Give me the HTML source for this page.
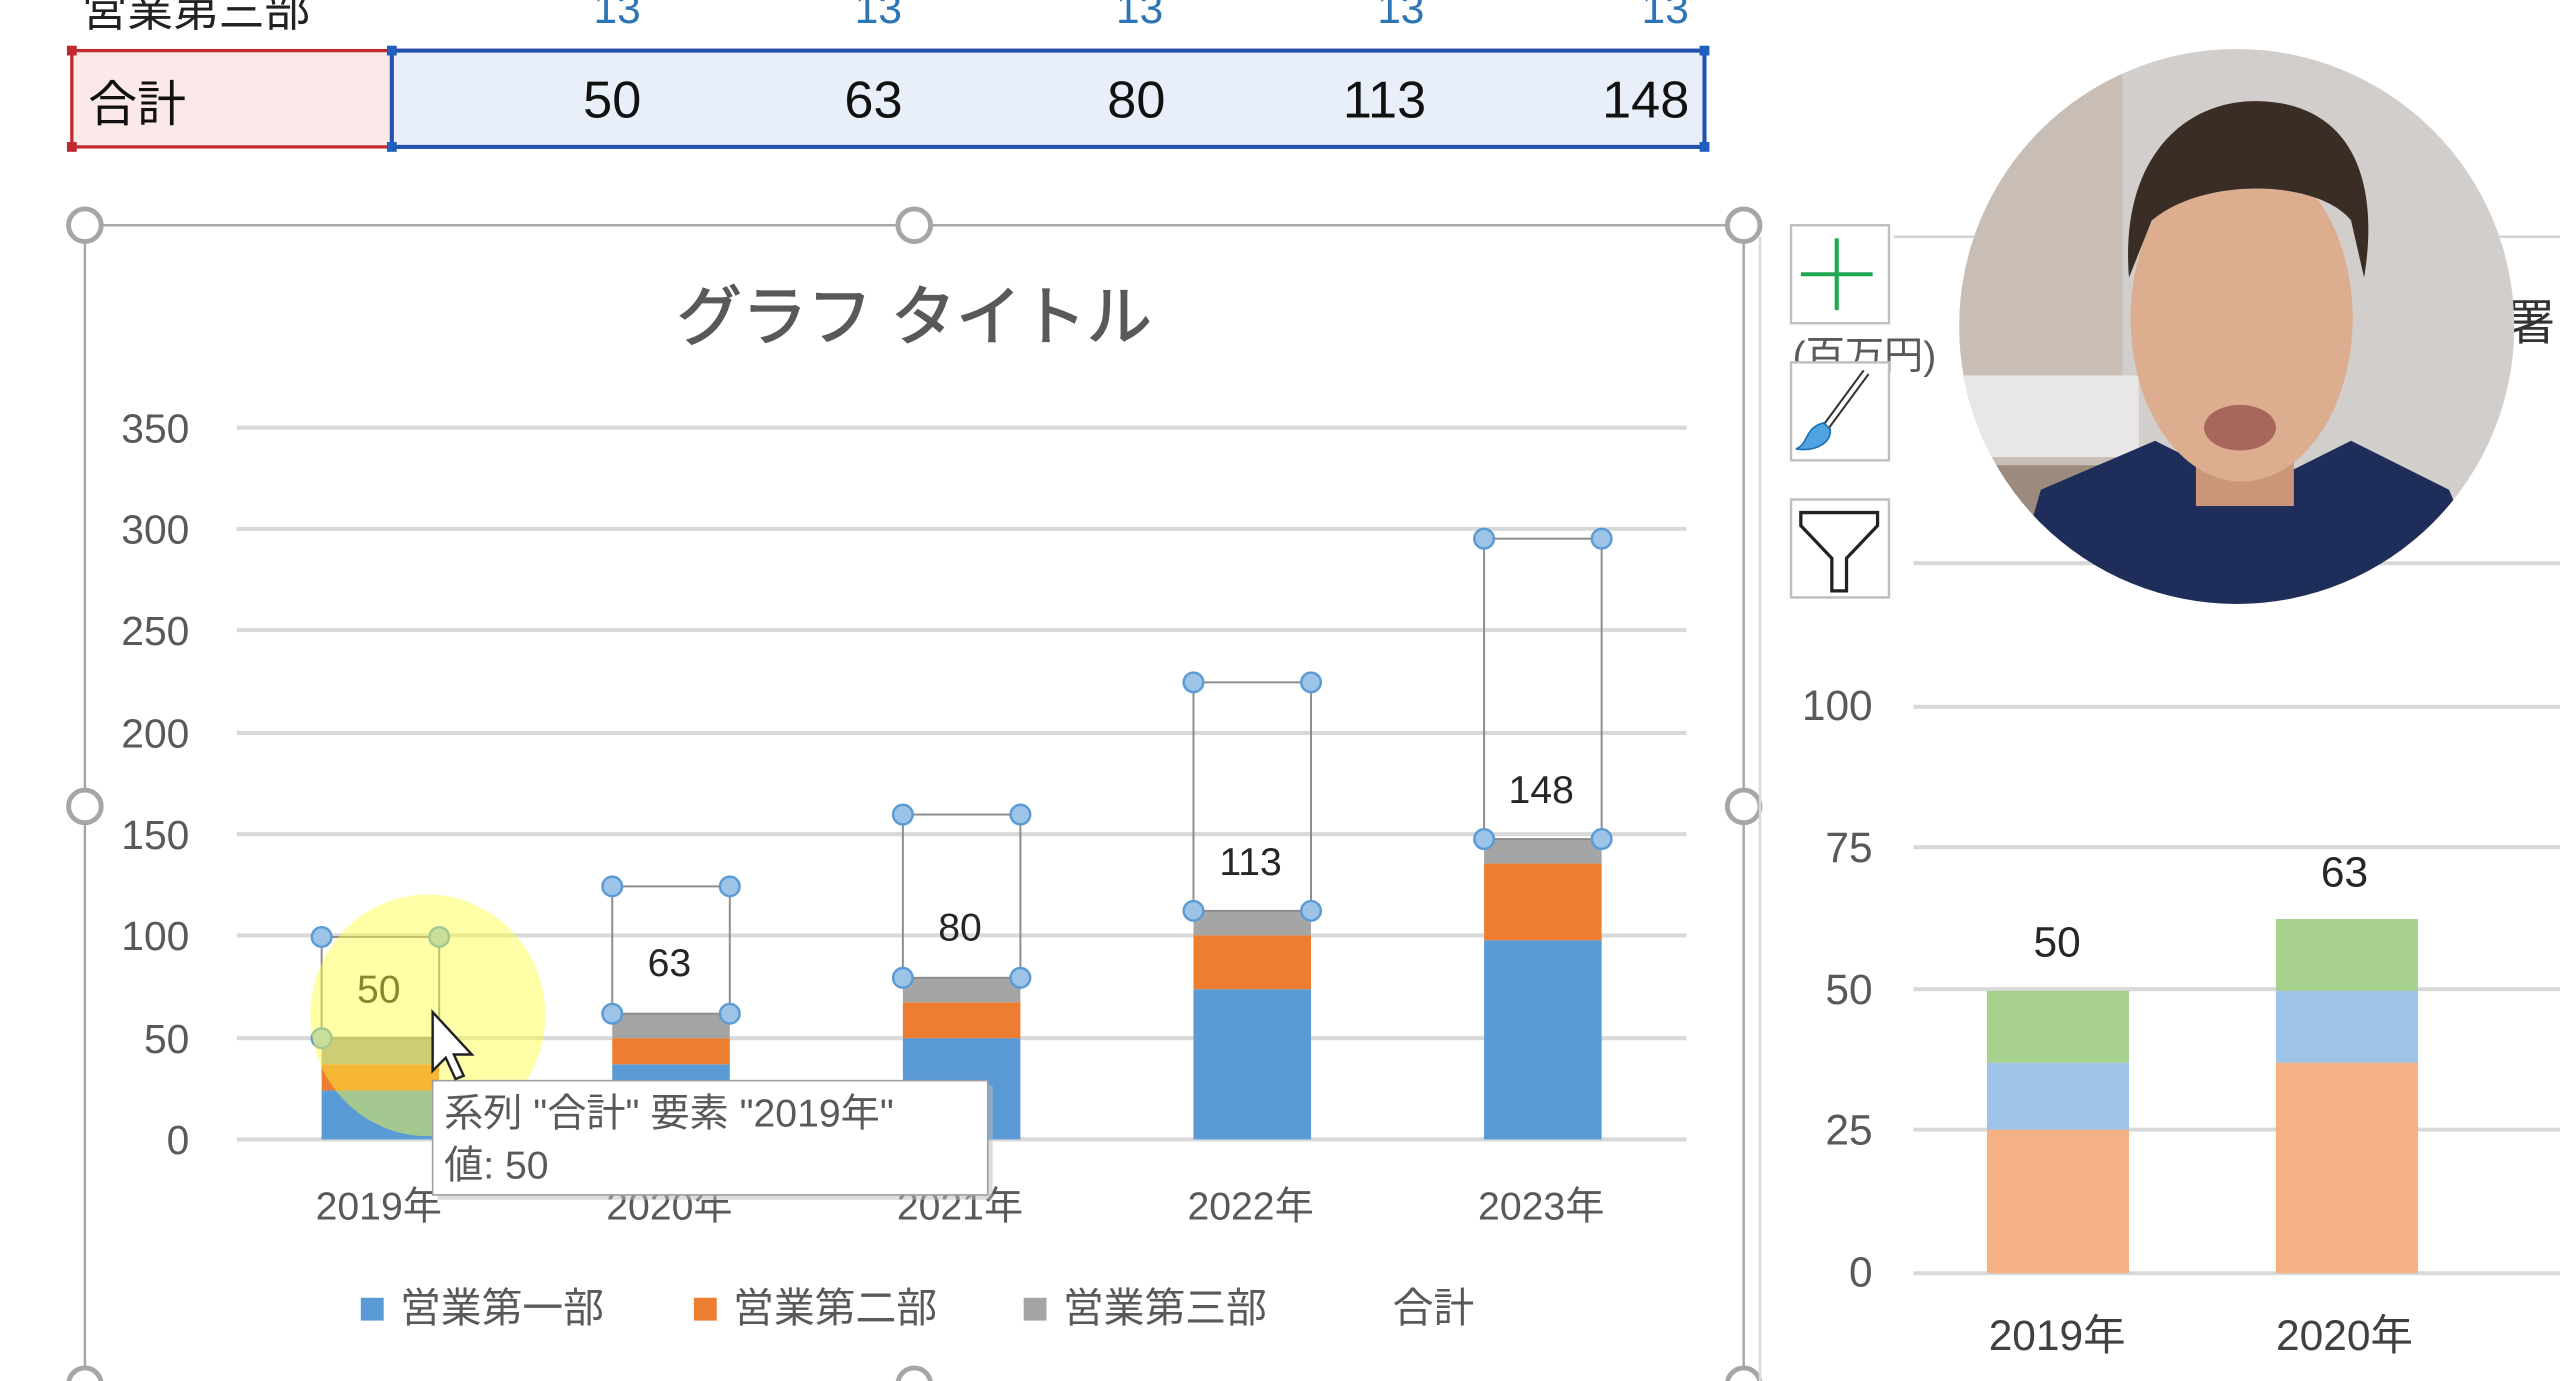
<!DOCTYPE html>
<html><head><meta charset="utf-8"><style>
html,body{margin:0;padding:0;background:#fff;width:2560px;height:1381px;overflow:hidden}
svg{display:block}
text{font-family:"Liberation Sans","Noto Sans CJK JP",sans-serif}
</style></head><body>
<svg width="2560" height="1381" viewBox="0 0 1568 846" preserveAspectRatio="none">
<text x="50" y="16" font-size="28" fill="#222">営業第三部</text>
<g font-size="26" fill="#2e75b6" text-anchor="middle">
<text x="378" y="14">13</text><text x="538" y="14">13</text><text x="698" y="14">13</text><text x="858" y="14">13</text><text x="1020" y="14">13</text></g>
<rect x="44" y="31" width="196" height="59" fill="#fbe9ea" stroke="#c0282d" stroke-width="2"/>
<rect x="240" y="31" width="804" height="59" fill="#e9eff8" stroke="#2451b0" stroke-width="2.5"/>
<g fill="#1f5fbf"><rect x="237" y="28" width="6" height="6"/><rect x="1041" y="28" width="6" height="6"/><rect x="237" y="87" width="6" height="6"/><rect x="1041" y="87" width="6" height="6"/></g>
<g fill="#c0282d"><rect x="41" y="28" width="6" height="6"/><rect x="41" y="87" width="6" height="6"/></g>
<text x="54" y="74" font-size="30" fill="#111">合計</text>
<g font-size="32" fill="#111" text-anchor="middle">
<text x="375" y="72">50</text><text x="535" y="72">63</text><text x="696" y="72">80</text><text x="848" y="72">113</text><text x="1008" y="72">148</text></g>

<rect x="52" y="138" width="1016" height="720" fill="#fff" stroke="#a6a6a6" stroke-width="1.5"/>
<g fill="#fff" stroke="#a6a6a6" stroke-width="3">
<circle cx="52" cy="138" r="10"/><circle cx="560" cy="138" r="10"/><circle cx="1068" cy="138" r="10"/>
<circle cx="52" cy="494" r="10"/><circle cx="1068" cy="494" r="10"/>
<circle cx="52" cy="848" r="10"/><circle cx="560" cy="848" r="10"/><circle cx="1068" cy="848" r="10"/></g>
<text x="560" y="208" font-size="40" fill="#595959" stroke="#595959" stroke-width="0.8" text-anchor="middle">グラフ タイトル</text>
<g stroke="#d9d9d9" stroke-width="2.5">
<line x1="145" x2="1033" y1="262" y2="262"/><line x1="145" x2="1033" y1="324" y2="324"/><line x1="145" x2="1033" y1="386" y2="386"/><line x1="145" x2="1033" y1="449" y2="449"/><line x1="145" x2="1033" y1="511" y2="511"/><line x1="145" x2="1033" y1="573" y2="573"/><line x1="145" x2="1033" y1="636" y2="636"/><line x1="145" x2="1033" y1="698" y2="698"/></g>
<g font-size="25" fill="#595959" text-anchor="end">
<text x="116" y="271">350</text><text x="116" y="333">300</text><text x="116" y="395">250</text><text x="116" y="458">200</text><text x="116" y="520">150</text><text x="116" y="582">100</text><text x="116" y="645">50</text><text x="116" y="707">0</text></g>
<g>
<rect x="197" y="668" width="72" height="30" fill="#5b9bd5"/><rect x="197" y="652" width="72" height="16" fill="#ed7d31"/><rect x="197" y="636" width="72" height="16" fill="#a5a5a5"/>
<rect x="375" y="652" width="72" height="46" fill="#5b9bd5"/><rect x="375" y="636" width="72" height="16" fill="#ed7d31"/><rect x="375" y="621" width="72" height="15" fill="#a5a5a5"/>
<rect x="553" y="636" width="72" height="62" fill="#5b9bd5"/><rect x="553" y="614" width="72" height="22" fill="#ed7d31"/><rect x="553" y="599" width="72" height="15" fill="#a5a5a5"/>
<rect x="731" y="606" width="72" height="92" fill="#5b9bd5"/><rect x="731" y="573" width="72" height="33" fill="#ed7d31"/><rect x="731" y="558" width="72" height="15" fill="#a5a5a5"/>
<rect x="909" y="576" width="72" height="122" fill="#5b9bd5"/><rect x="909" y="529" width="72" height="47" fill="#ed7d31"/><rect x="909" y="514" width="72" height="15" fill="#a5a5a5"/>
</g>
<g fill="none" stroke="#8c8c8c" stroke-width="1.2">
<rect x="197" y="574" width="72" height="62"/><rect x="375" y="543" width="72" height="78"/><rect x="553" y="499" width="72" height="100"/><rect x="731" y="418" width="72" height="140"/><rect x="909" y="330" width="72" height="184"/></g>
<g fill="#9dc3e6" stroke="#5b9bd5" stroke-width="1.5">
<circle cx="197" cy="574" r="6"/><circle cx="269" cy="574" r="6"/><circle cx="197" cy="636" r="6"/>
<circle cx="375" cy="543" r="6"/><circle cx="447" cy="543" r="6"/><circle cx="375" cy="621" r="6"/><circle cx="447" cy="621" r="6"/>
<circle cx="553" cy="499" r="6"/><circle cx="625" cy="499" r="6"/><circle cx="553" cy="599" r="6"/><circle cx="625" cy="599" r="6"/>
<circle cx="731" cy="418" r="6"/><circle cx="803" cy="418" r="6"/><circle cx="731" cy="558" r="6"/><circle cx="803" cy="558" r="6"/>
<circle cx="909" cy="330" r="6"/><circle cx="981" cy="330" r="6"/><circle cx="909" cy="514" r="6"/><circle cx="981" cy="514" r="6"/></g>
<g font-size="24" fill="#262626" text-anchor="middle">
<text x="232" y="614">50</text><text x="410" y="598">63</text><text x="588" y="576">80</text><text x="766" y="536">113</text><text x="944" y="492">148</text></g>
<ellipse cx="262" cy="622" rx="72" ry="74" fill="#ffff3c" fill-opacity="0.45"/>
<g font-size="24" fill="#595959" text-anchor="middle">
<text x="232" y="747">2019年</text><text x="410" y="747">2020年</text><text x="588" y="747">2021年</text><text x="766" y="747">2022年</text><text x="944" y="747">2023年</text></g>
<rect x="268" y="665" width="340" height="70" fill="#bbb" opacity="0.5"/>
<rect x="265" y="662" width="340" height="70" fill="#fff" stroke="#a0a0a0" stroke-width="1"/>
<text x="272" y="690" font-size="24" fill="#595959">系列 "合計" 要素 "2019年"</text>
<text x="272" y="722" font-size="24" fill="#595959">値: 50</text>
<path d="M265 620 L265 656 L273 648 L279 661 L284 659 L278 646 L289 646 Z" fill="#fff" stroke="#222" stroke-width="1.5"/>
<g font-size="25" fill="#595959">
<rect x="221" y="795" width="14" height="14" fill="#5b9bd5"/><text x="245" y="810">営業第一部</text>
<rect x="425" y="795" width="14" height="14" fill="#ed7d31"/><text x="449" y="810">営業第二部</text>
<rect x="627" y="795" width="14" height="14" fill="#a5a5a5"/><text x="651" y="810">営業第三部</text>
<text x="853" y="810">合計</text></g>

<line x1="1078" y1="145" x2="1078" y2="846" stroke="#d9d9d9" stroke-width="1.5"/>
<line x1="1160" y1="145" x2="1568" y2="145" stroke="#d0d0d0" stroke-width="1.5"/>
<text x="1098" y="226" font-size="24" fill="#595959">(百万円)</text>
<g fill="#fff" stroke="#bfbfbf" stroke-width="1.5">
<rect x="1097" y="138" width="60" height="60"/><rect x="1097" y="222" width="60" height="60"/><rect x="1097" y="306" width="60" height="60"/></g>
<path d="M1125 146 V190 M1103 168 H1147" stroke="#1fa84f" stroke-width="2.5"/>
<path d="M1143 228 L1118 262" stroke="#333" stroke-width="5"/><path d="M1143 228 L1118 262" stroke="#fff" stroke-width="2.5"/>
<path d="M1117 259 C1105 262 1108 272 1100 275 C1114 277 1122 270 1121 263 Z" fill="#4fa3e0" stroke="#1f6fb0"/>
<path d="M1103 314 H1150 V322 L1131 342 V362 H1122 V342 L1103 322 Z" fill="#fff" stroke="#222" stroke-width="2"/>
<g stroke="#d9d9d9" stroke-width="2.5">
<line x1="1172" x2="1568" y1="345" y2="345"/><line x1="1172" x2="1568" y1="433" y2="433"/><line x1="1172" x2="1568" y1="519" y2="519"/><line x1="1172" x2="1568" y1="606" y2="606"/><line x1="1172" x2="1568" y1="692" y2="692"/><line x1="1172" x2="1568" y1="780" y2="780"/></g>
<g font-size="26" fill="#595959" text-anchor="end">
<text x="1147" y="441">100</text><text x="1147" y="528">75</text><text x="1147" y="615">50</text><text x="1147" y="701">25</text><text x="1147" y="788">0</text></g>
<rect x="1217" y="692" width="87" height="88" fill="#f4b183"/><rect x="1217" y="651" width="87" height="41" fill="#9dc3e6"/><rect x="1217" y="607" width="87" height="44" fill="#a9d18e"/>
<rect x="1394" y="651" width="87" height="129" fill="#f4b183"/><rect x="1394" y="607" width="87" height="44" fill="#9dc3e6"/><rect x="1394" y="563" width="87" height="44" fill="#a9d18e"/>
<g font-size="26" fill="#262626" text-anchor="middle"><text x="1260" y="586">50</text><text x="1436" y="543">63</text></g>
<g font-size="26" fill="#404040" text-anchor="middle"><text x="1260" y="827">2019年</text><text x="1436" y="827">2020年</text></g>
<text x="1535" y="208" font-size="30" fill="#333">署</text>
<defs><clipPath id="c"><circle cx="1370" cy="200" r="170"/></clipPath></defs>
<g clip-path="url(#c)">
<rect x="1200" y="30" width="340" height="340" fill="#d2cecb"/>
<rect x="1200" y="30" width="100" height="340" fill="#c8beb6"/>
<rect x="1200" y="230" width="110" height="50" fill="#e8e6e6"/>
<rect x="1200" y="285" width="100" height="80" fill="#9c8a7c"/>
<path d="M1230 370 L1250 300 L1320 270 L1380 300 L1440 270 L1500 300 L1530 370 Z" fill="#1f2d5a"/>
<rect x="1345" y="270" width="60" height="40" fill="#c9967a"/>
<ellipse cx="1373" cy="195" rx="68" ry="100" fill="#dcae8f"/>
<path d="M1304 170 C1298 95 1340 60 1385 62 C1440 64 1458 110 1448 170 L1440 135 C1420 110 1350 108 1318 135 Z" fill="#3a2d26"/>
<ellipse cx="1372" cy="262" rx="22" ry="14" fill="#a8665c"/>
</g>
</svg>
</body></html>
